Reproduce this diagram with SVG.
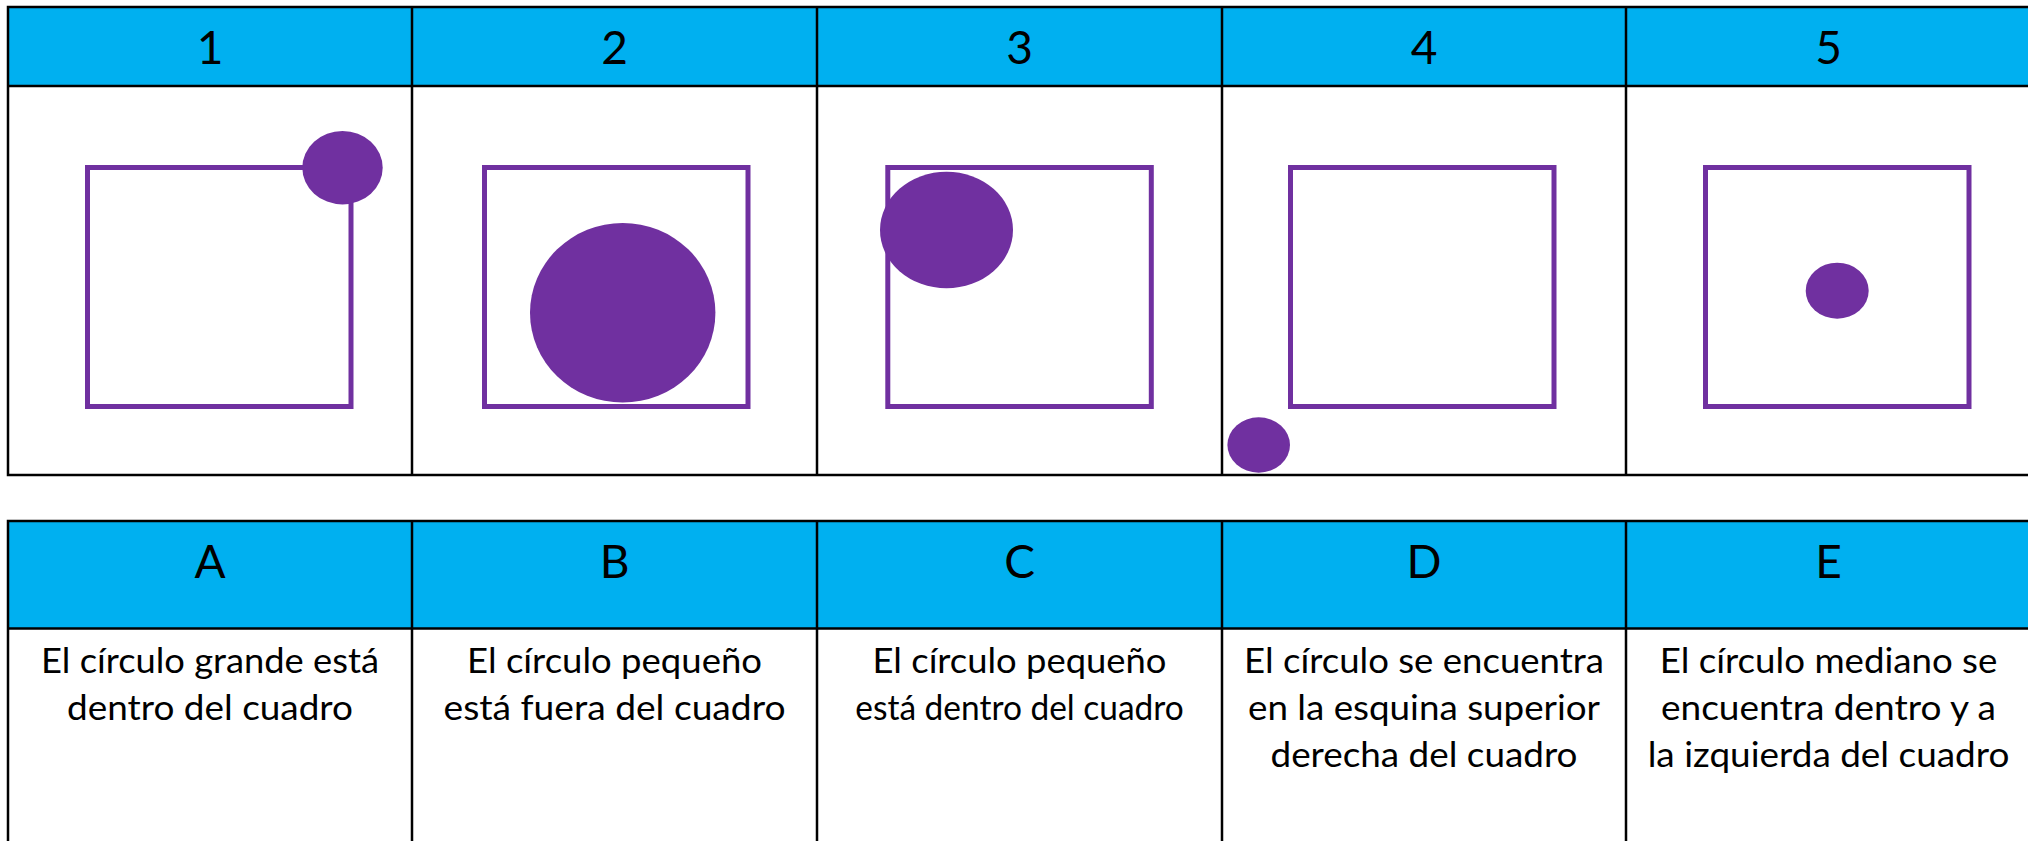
<svg xmlns="http://www.w3.org/2000/svg" width="2028" height="841" viewBox="0 0 2028 841">
<style>
.hdr{fill:#00B0F0}
.grid{stroke:#000;stroke-width:2.5;fill:none}
.sq{fill:none;stroke:#7030A0;stroke-width:5}
.dot{fill:#7030A0}
.h{font-family:Lato,"Open Sans",sans-serif;font-size:46px;fill:#000;text-anchor:middle}
.t{font-family:Lato,"Open Sans",sans-serif;font-size:35px;fill:#000;text-anchor:middle}
</style>
<rect width="2028" height="841" fill="#fff"/>
<g id="table-top">
<rect class="hdr" x="8" y="7" width="2030" height="79"/>
<rect class="grid" x="8" y="7" width="2030" height="468"/>
<line class="grid" x1="8" y1="86" x2="2028" y2="86"/>
<line class="grid" x1="412" y1="7" x2="412" y2="475"/>
<line class="grid" x1="817" y1="7" x2="817" y2="475"/>
<line class="grid" x1="1222" y1="7" x2="1222" y2="475"/>
<line class="grid" x1="1626" y1="7" x2="1626" y2="475"/>
</g>
<g id="table-bottom">
<rect class="hdr" x="8" y="521" width="2030" height="107.5"/>
<rect class="grid" x="8" y="521" width="2030" height="340"/>
<line class="grid" x1="8" y1="628.5" x2="2028" y2="628.5"/>
<line class="grid" x1="412" y1="521" x2="412" y2="841"/>
<line class="grid" x1="817" y1="521" x2="817" y2="841"/>
<line class="grid" x1="1222" y1="521" x2="1222" y2="841"/>
<line class="grid" x1="1626" y1="521" x2="1626" y2="841"/>
</g>
<g id="cell-1">
<text class="h" x="210" y="64">1</text>
<rect class="sq" x="87.5" y="167.5" width="263.5" height="239"/>
<ellipse class="dot" cx="342.5" cy="167.7" rx="40.2" ry="36.7"/>
</g>
<g id="cell-2">
<text class="h" x="614.5" y="64">2</text>
<rect class="sq" x="484.5" y="167.5" width="263.5" height="239"/>
<ellipse class="dot" cx="622.7" cy="312.8" rx="92.7" ry="89.8"/>
</g>
<g id="cell-3">
<text class="h" x="1019.5" y="64">3</text>
<rect class="sq" x="887.8" y="167.5" width="263.5" height="239"/>
<ellipse class="dot" cx="946.5" cy="230" rx="66.5" ry="58.3"/>
</g>
<g id="cell-4">
<text class="h" x="1424" y="64">4</text>
<rect class="sq" x="1290.5" y="167.5" width="263.5" height="239"/>
<ellipse class="dot" cx="1258.7" cy="445" rx="31.3" ry="27.7"/>
</g>
<g id="cell-5">
<text class="h" x="1828.5" y="64">5</text>
<rect class="sq" x="1705.5" y="167.5" width="263.5" height="239"/>
<ellipse class="dot" cx="1837.2" cy="290.7" rx="31.5" ry="28"/>
</g>
<g id="cell-A">
<text class="h" x="210" y="578">A</text>
<text class="t" x="210" y="672.7" textLength="338" lengthAdjust="spacingAndGlyphs">El círculo grande está</text>
<text class="t" x="210" y="720" textLength="286" lengthAdjust="spacingAndGlyphs">dentro del cuadro</text>
</g>
<g id="cell-B">
<text class="h" x="614.5" y="578">B</text>
<text class="t" x="614.5" y="672.7" textLength="295" lengthAdjust="spacingAndGlyphs">El círculo pequeño</text>
<text class="t" x="614.5" y="720" textLength="342" lengthAdjust="spacingAndGlyphs">está fuera del cuadro</text>
</g>
<g id="cell-C">
<text class="h" x="1019.5" y="578">C</text>
<text class="t" x="1019.5" y="672.7" textLength="294" lengthAdjust="spacingAndGlyphs">El círculo pequeño</text>
<text class="t" x="1019.5" y="720" textLength="328.5" lengthAdjust="spacingAndGlyphs">está dentro del cuadro</text>
</g>
<g id="cell-D">
<text class="h" x="1424" y="578">D</text>
<text class="t" x="1424" y="672.7" textLength="360" lengthAdjust="spacingAndGlyphs">El círculo se encuentra</text>
<text class="t" x="1424" y="720" textLength="352" lengthAdjust="spacingAndGlyphs">en la esquina superior</text>
<text class="t" x="1424" y="767.3" textLength="307" lengthAdjust="spacingAndGlyphs">derecha del cuadro</text>
</g>
<g id="cell-E">
<text class="h" x="1828.5" y="578">E</text>
<text class="t" x="1828.5" y="672.7" textLength="337.7" lengthAdjust="spacingAndGlyphs">El círculo mediano se</text>
<text class="t" x="1828.5" y="720" textLength="335" lengthAdjust="spacingAndGlyphs">encuentra dentro y a</text>
<text class="t" x="1828.5" y="767.3" textLength="361.7" lengthAdjust="spacingAndGlyphs">la izquierda del cuadro</text>
</g>
</svg>
